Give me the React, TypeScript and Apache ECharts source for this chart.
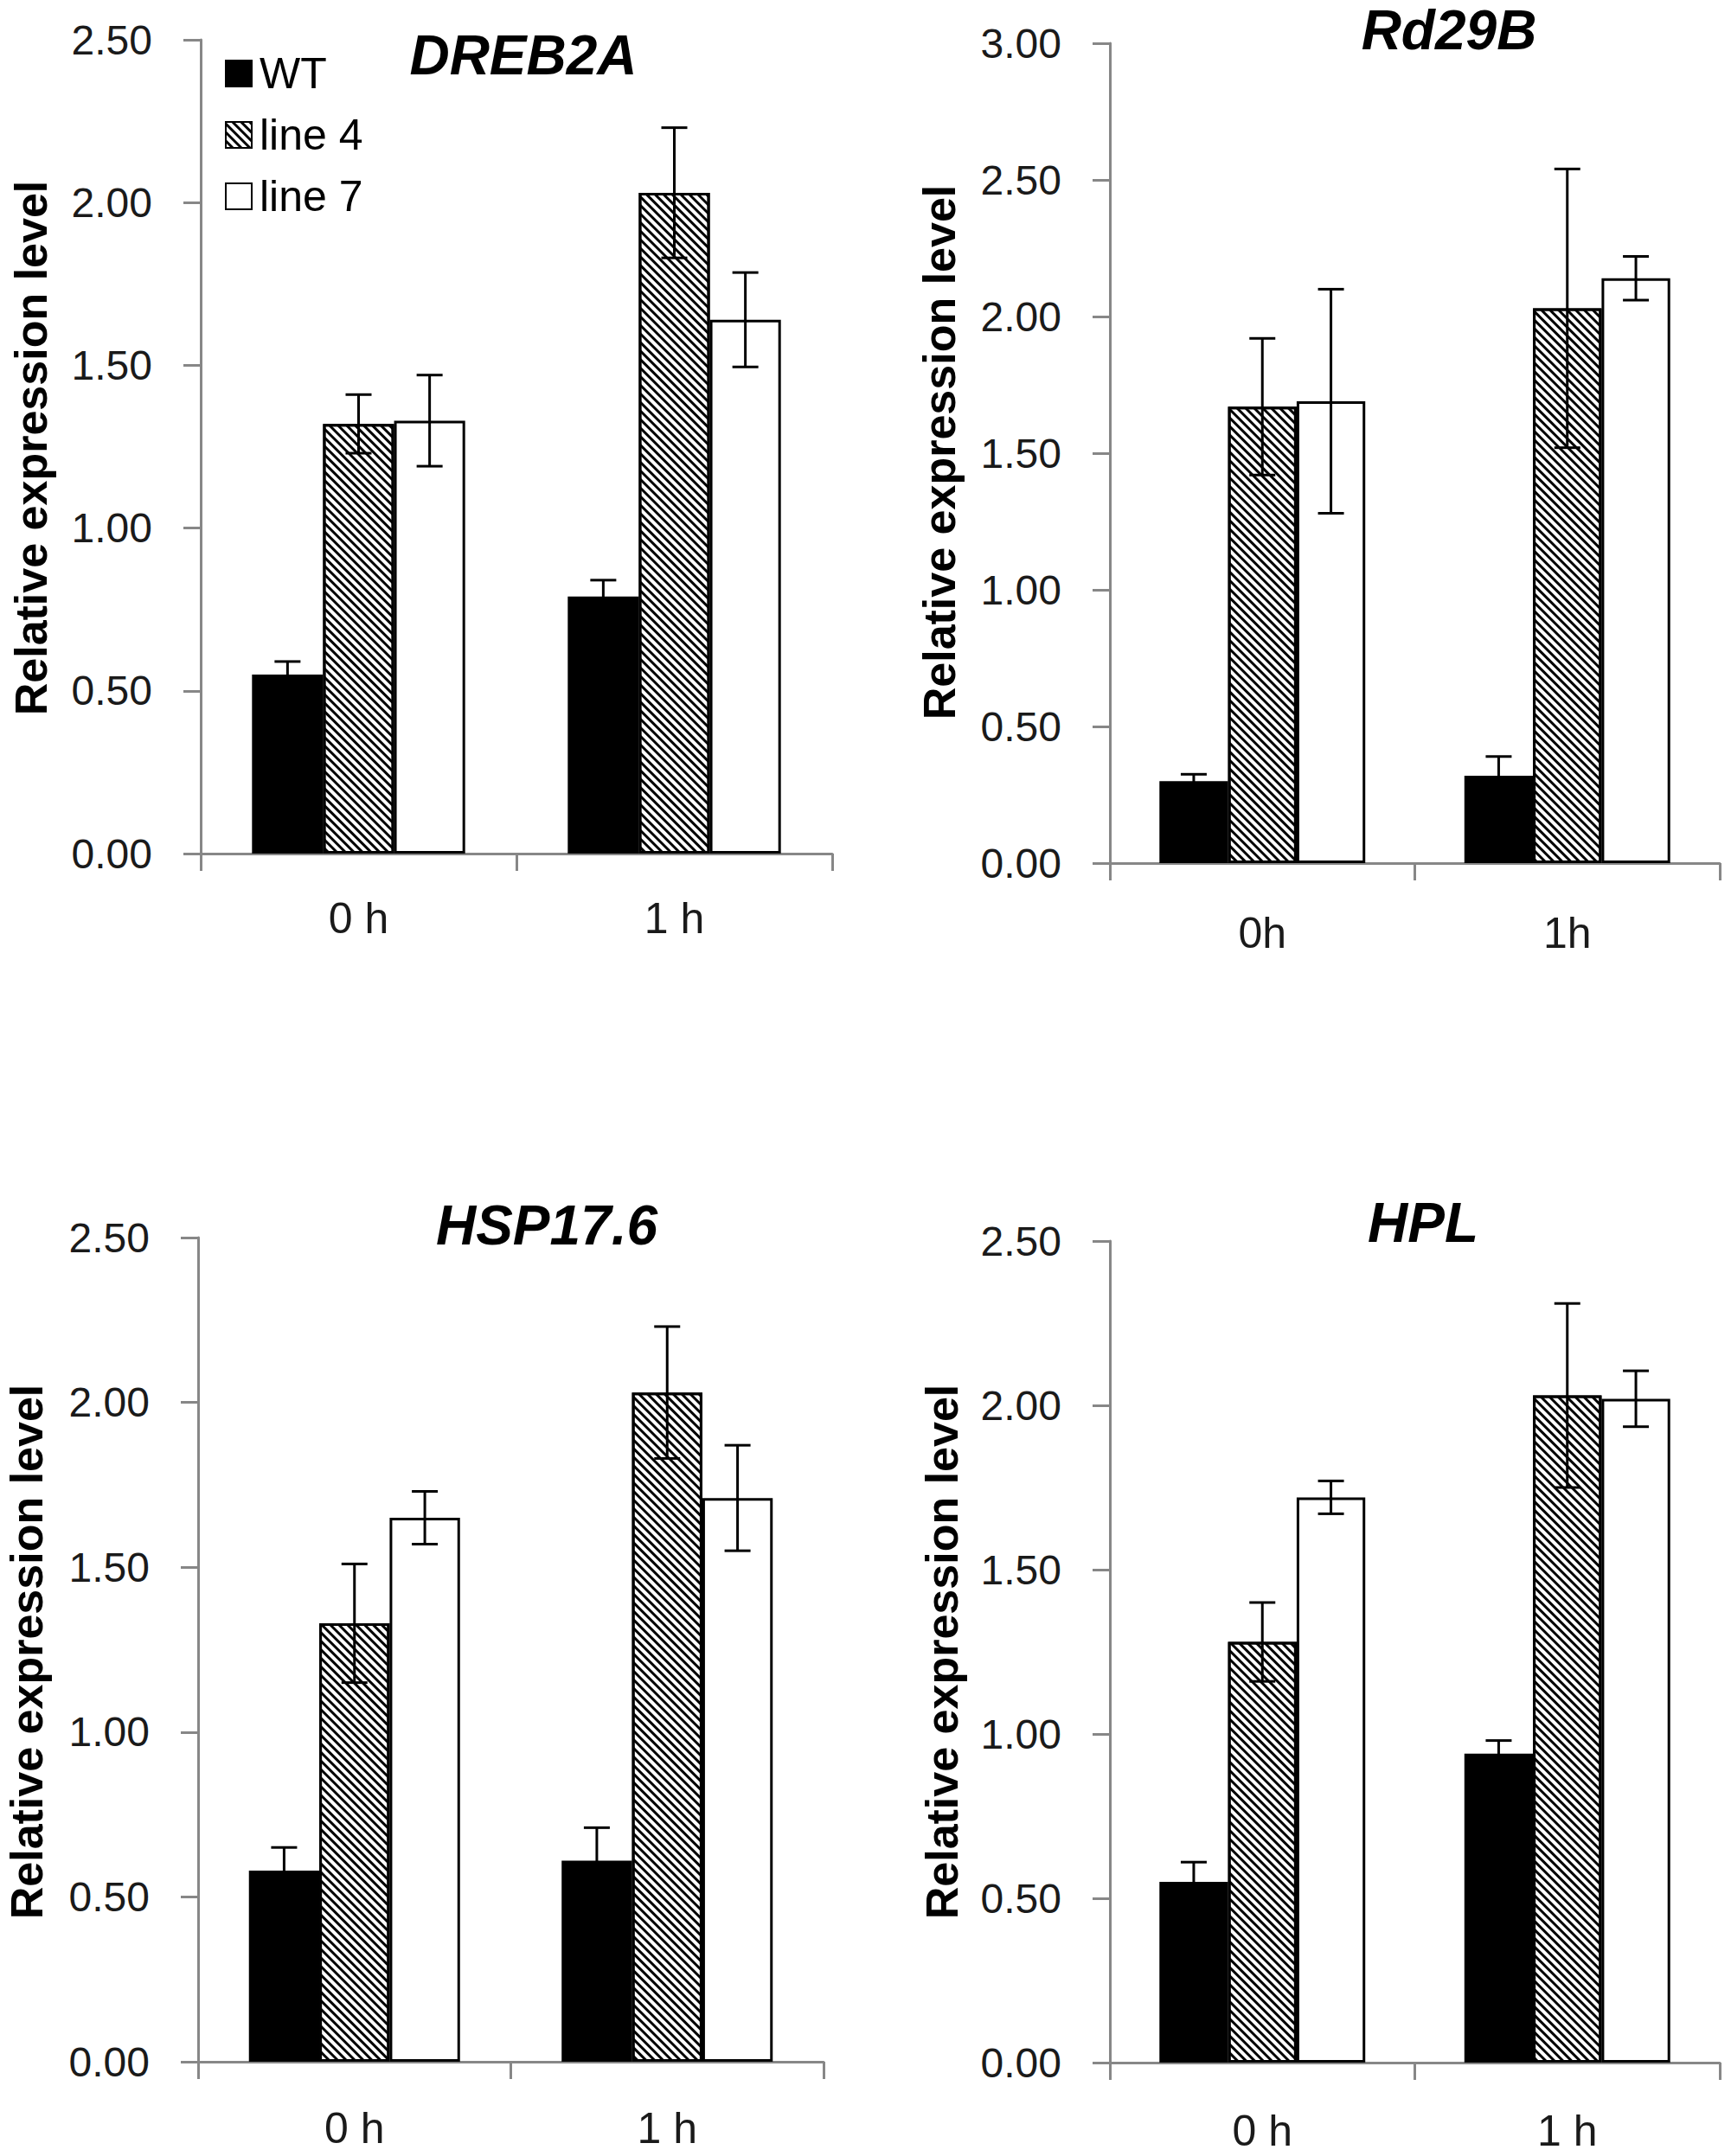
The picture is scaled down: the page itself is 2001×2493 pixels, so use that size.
import React, { useEffect, useRef } from "react";
import * as echarts from "echarts";

// ---- data ----
const genes = ["DREB2A", "Rd29B", "HSP17.6", "HPL"];
const seriesNames = ["WT", "line 4", "line 7"];
const categoriesSpaced = ["0 h", "1 h"];
const categoriesTight = ["0h", "1h"];
const yMaxes = [2.5, 3.0, 2.5, 2.5];
const yTicks = [0.5, 0.5, 0.5, 0.5];

// means [WT, line 4, line 7] x [0 h, 1 h]
const dreb2aMeans = [[0.55, 0.79], [1.32, 2.03], [1.33, 1.64]];
const dreb2aErrors = [[0.04, 0.05], [0.09, 0.2], [0.14, 0.145]];
const rd29bMeans = [[0.3, 0.32], [1.67, 2.03], [1.69, 2.14]];
const rd29bErrors = [[0.025, 0.07], [0.25, 0.51], [0.41, 0.08]];
const hsp176Means = [[0.58, 0.61], [1.33, 2.03], [1.65, 1.71]];
const hsp176Errors = [[0.07, 0.1], [0.18, 0.2], [0.08, 0.16]];
const hplMeans = [[0.55, 0.94], [1.28, 2.03], [1.72, 2.02]];
const hplErrors = [[0.06, 0.04], [0.12, 0.28], [0.05, 0.085]];

const allMeans = [dreb2aMeans, rd29bMeans, hsp176Means, hplMeans];
const allErrors = [dreb2aErrors, rd29bErrors, hsp176Errors, hplErrors];
const allCategories = [categoriesSpaced, categoriesTight, categoriesSpaced, categoriesSpaced];

// ---- layout ----
const grids = [
  { left: 232, top: 46, width: 730, height: 941 },
  { left: 1283, top: 50, width: 705, height: 948 },
  { left: 229, top: 1431, width: 723, height: 953 },
  { left: 1283, top: 1435, width: 705, height: 950 },
];
const xLabelMargins = [50, 56, 52, 54];
const titlePos = [
  [605, 64],
  [1675, 35],
  [632, 1417],
  [1645, 1414],
];
const yTitlePos = [
  [36, 518],
  [1086, 523],
  [31, 1910],
  [1089, 1910],
];

const BAR_FRAC = 0.225;
const AXIS_COLOR = "#878787";
const FONT = '"Liberation Sans", Arial, sans-serif';

const hatch = {
  symbol: "rect",
  symbolSize: 1,
  dashArrayX: [1, 0],
  dashArrayY: [2.5, 3.5],
  rotation: Math.PI / 4,
  color: "#000000",
  backgroundColor: "#ffffff",
};

const barStyles = [
  { color: "#000000", borderColor: "#000000", borderWidth: 3 },
  { color: "#ffffff", borderColor: "#000000", borderWidth: 3, decal: hatch },
  { color: "#ffffff", borderColor: "#000000", borderWidth: 3 },
];

function buildOption() {
  const series: any[] = [];
  const xAxes: any[] = [];
  const yAxes: any[] = [];
  const graphics: any[] = [];

  grids.forEach((g, gi) => {
    xAxes.push({
      type: "category",
      gridIndex: gi,
      data: allCategories[gi],
      boundaryGap: true,
      axisLine: { show: true, lineStyle: { color: AXIS_COLOR, width: 3 } },
      axisTick: { show: true, length: 20, alignWithLabel: false, interval: 0, lineStyle: { color: AXIS_COLOR, width: 3 } },
      axisLabel: { color: "#1a1a1a", fontFamily: FONT, fontSize: 50, margin: xLabelMargins[gi], lineHeight: 50 },
      splitLine: { show: false },
    });
    yAxes.push({
      type: "value",
      gridIndex: gi,
      min: 0,
      max: yMaxes[gi],
      interval: yTicks[gi],
      axisLine: { show: true, lineStyle: { color: AXIS_COLOR, width: 3 } },
      axisTick: { show: true, length: 20, inside: false, lineStyle: { color: AXIS_COLOR, width: 3 } },
      axisLabel: {
        color: "#1a1a1a",
        fontFamily: FONT,
        fontSize: 48,
        margin: 56,
        formatter: (v: number) => v.toFixed(2),
      },
      splitLine: { show: false },
    });

    seriesNames.forEach((name, si) => {
      series.push({
        type: "bar",
        name,
        xAxisIndex: gi,
        yAxisIndex: gi,
        data: allMeans[gi][si],
        barWidth: BAR_FRAC * 100 + "%",
        barGap: "0%",
        itemStyle: barStyles[si],
        z: 2,
      });
    });

    const errData: any[] = [];
    seriesNames.forEach((_n, si) => {
      allMeans[gi][si].forEach((m, ci) => {
        errData.push([ci, m, allErrors[gi][si][ci], si]);
      });
    });
    series.push({
      type: "custom",
      xAxisIndex: gi,
      yAxisIndex: gi,
      data: errData,
      encode: { x: 0, y: 1 },
      z: 5,
      silent: true,
      renderItem: (_params: any, api: any) => {
        const ci = api.value(0);
        const m = api.value(1);
        const e = api.value(2);
        const si = api.value(3);
        const band = api.size([1, 0])[0];
        const bw = band * BAR_FRAC;
        const c = api.coord([ci, m]);
        const x = c[0] + (si - 1) * bw;
        const yt = api.coord([ci, m + e])[1];
        const yb = api.coord([ci, m - e])[1];
        const cap = 15;
        const st = { stroke: "#000000", lineWidth: 3 };
        return {
          type: "group",
          children: [
            { type: "line", shape: { x1: x, y1: yt, x2: x, y2: yb }, style: st },
            { type: "line", shape: { x1: x - cap, y1: yt, x2: x + cap, y2: yt }, style: st },
            { type: "line", shape: { x1: x - cap, y1: yb, x2: x + cap, y2: yb }, style: st },
          ],
        };
      },
    });

    graphics.push({
      type: "text",
      x: titlePos[gi][0],
      y: titlePos[gi][1],
      style: {
        text: genes[gi],
        font: `italic bold 64px ${FONT}`,
        fill: "#000000",
        textAlign: "center",
        textVerticalAlign: "middle",
      },
    });
    graphics.push({
      type: "text",
      x: yTitlePos[gi][0],
      y: yTitlePos[gi][1],
      rotation: Math.PI / 2,
      style: {
        text: "Relative expression level",
        font: `bold 52px ${FONT}`,
        fill: "#000000",
        textAlign: "center",
        textVerticalAlign: "middle",
      },
    });
  });

  return {
    animation: false,
    backgroundColor: "#ffffff",
    grid: grids.map((g) => ({ ...g, containLabel: false })),
    xAxis: xAxes,
    yAxis: yAxes,
    legend: {
      data: seriesNames,
      orient: "vertical",
      left: 255,
      top: 55,
      itemWidth: 30,
      itemHeight: 30,
      itemGap: 21,
      icon: "rect",
      selectedMode: false,
      textStyle: { fontFamily: FONT, fontSize: 50, color: "#000000", lineHeight: 50, padding: [0, 0, 0, 4] },
    },
    graphic: graphics,
    series,
  };
}

export default function App() {
  const ref = useRef<HTMLDivElement>(null);
  useEffect(() => {
    document.body.style.margin = "0";
    if (!ref.current) return;
    const chart = echarts.init(ref.current, undefined, { renderer: "svg" });
    chart.setOption(buildOption() as any);
    return () => chart.dispose();
  }, []);
  return <div ref={ref} style={{ width: 2001, height: 2493 }} />;
}
